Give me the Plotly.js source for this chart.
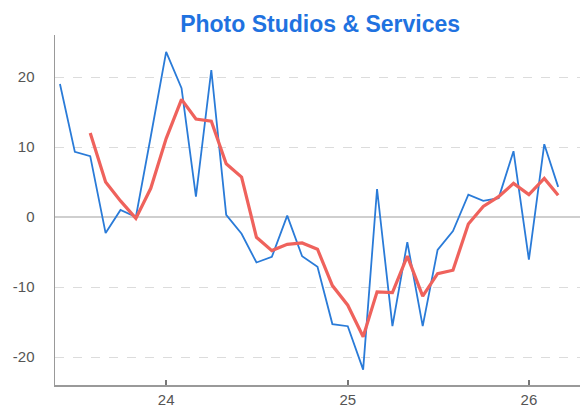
<!DOCTYPE html>
<html>
<head>
<meta charset="utf-8">
<script src="https://cdn.plot.ly/plotly-3.0.1.min.js"></script>
<style>html,body{margin:0;padding:0;background:#fff;}#chart{width:581px;height:407px;}</style>
</head>
<body>
<div id="chart"></div>
<script>
const months = ["2023-06-01","2023-07-01","2023-08-01","2023-09-01","2023-10-01","2023-11-01","2023-12-01",
  "2024-01-01","2024-02-01","2024-03-01","2024-04-01","2024-05-01","2024-06-01","2024-07-01","2024-08-01",
  "2024-09-01","2024-10-01","2024-11-01","2024-12-01","2025-01-01","2025-02-01","2025-03-01","2025-04-01",
  "2025-05-01","2025-06-01","2025-07-01","2025-08-01","2025-09-01","2025-10-01","2025-11-01","2025-12-01",
  "2026-01-01","2026-02-01","2026-03-01"];
const monthly = [19.0, 9.3, 8.7, -2.3, 1.0, 0.0, 11.5, 23.6, 18.4, 2.9, 21.0, 0.3, -2.4, -6.5, -5.7,
  0.2, -5.6, -7.1, -15.3, -15.6, -21.8, 4.0, -15.6, -3.6, -15.6, -4.7, -2.0, 3.2, 2.3, 2.7, 9.4,
  -6.1, 10.4, 4.3];
const smoothed = [null, null, 12.0, 5.0, 2.3, -0.2, 4.1, 11.2, 16.8, 14.0, 13.7, 7.6, 5.7, -2.9, -4.8,
  -3.9, -3.7, -4.6, -9.8, -12.6, -17.1, -10.7, -10.8, -5.6, -11.3, -8.1, -7.6, -1.0, 1.5, 2.9, 4.8,
  3.2, 5.5, 3.1];
const titleText = "Photo Studios & Services";
const yTicks = [-20, -10, 0, 10, 20];

const traces = [
  {x: months, y: monthly, type: "scatter", mode: "lines",
   line: {color: "#2a7bd8", width: 1.8}, hoverinfo: "skip"},
  {x: months, y: smoothed, type: "scatter", mode: "lines",
   line: {color: "#ef625c", width: 3.2}, hoverinfo: "skip", connectgaps: false}
];

const layout = {
  width: 581, height: 407,
  margin: {l: 55, r: 1, t: 35, b: 22},
  paper_bgcolor: "#fff", plot_bgcolor: "#fff",
  showlegend: false,
  font: {family: "Liberation Sans, Arial, sans-serif", color: "#555", size: 15},
  title: {text: "<b>" + titleText + "</b>", font: {size: 23, color: "#1f72e0", family: "Liberation Sans, Arial, sans-serif"},
          x: 0.551, xanchor: "center", y: 0.942, yanchor: "middle", yref: "container"},
  xaxis: {
    type: "date", range: ["2023-05-22", "2026-04-14"],
    tickformat: "%y", dtick: "M12", tick0: "2024-01-01",
    showgrid: false, zeroline: false,
    showline: true, linecolor: "#999", linewidth: 1.5,
    ticks: "inside", ticklen: 5, tickcolor: "#777", tickwidth: 1.5,
    tickfont: {size: 15, color: "#555"}
  },
  yaxis: {
    range: [-24, 26], tickvals: yTicks, ticktext: yTicks.map(String),
    showgrid: true, gridcolor: "#dcdcdc", griddash: "dash", gridwidth: 1,
    zeroline: true, zerolinecolor: "#cfcfcf", zerolinewidth: 2,
    showline: true, linecolor: "#999", linewidth: 1.5,
    ticks: "", ticklabelstandoff: 16,
    tickfont: {size: 15, color: "#555"}
  }
};

Plotly.newPlot("chart", traces, layout, {displayModeBar: false, staticPlot: true});
</script>
</body>
</html>
